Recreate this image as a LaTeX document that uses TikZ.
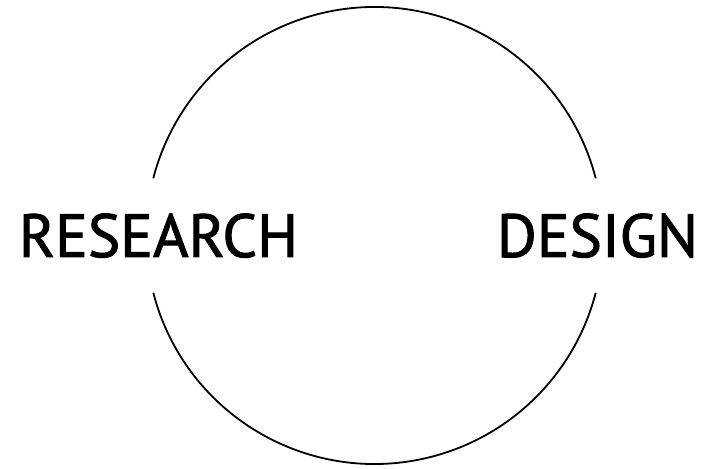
\documentclass[tikz,border=0pt]{standalone}
\usepackage{fontspec}
\setmainfont{PT Sans}
\newfontfamily\labelfont[FakeBold=1.6]{PT Sans}
\usepackage{tikz}
\usetikzlibrary{positioning}
\definecolor{linecolor}{RGB}{0, 0, 0}
\definecolor{labelcolor}{RGB}{0, 0, 0}
\tikzset{
cyclelabel/.style={
  font=\labelfont\fontsize{61}{61}\selectfont,
  text=labelcolor,
  inner sep=0pt,
  anchor=base
},
cyclearc/.style={
  draw=linecolor,
  line width=1.8pt
}
}
\begin{document}
\begin{tikzpicture}[x=1pt,y=1pt]
        \useasboundingbox (0,0) rectangle (711,468);
        \coordinate (centre) at (374.5,232.5);
        % two arcs, open at the labels
        \draw[cyclearc] ([shift={(14.5:228.5)}]centre) arc[start angle=14.5, end angle=165.5, radius=228.5];
        \draw[cyclearc] ([shift={(194.5:228.5)}]centre) arc[start angle=194.5, end angle=345.5, radius=228.5];
        \node[cyclelabel] (research) at (158.5,211) {RESEARCH};
        \node[cyclelabel] (design) at (597.5,211) {DESIGN};
      \end{tikzpicture}
\end{document}
